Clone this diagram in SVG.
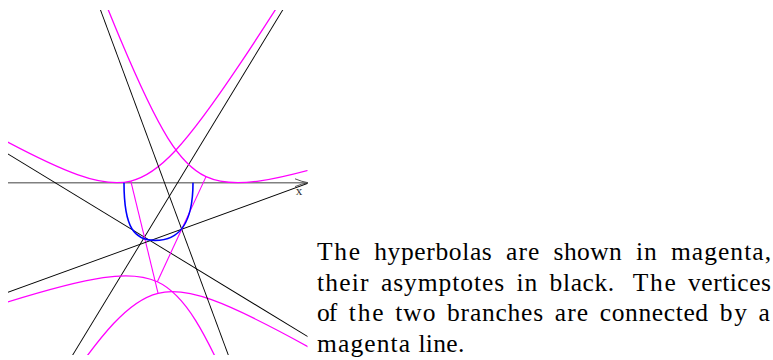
<svg xmlns="http://www.w3.org/2000/svg" width="773" height="360" viewBox="0 0 773 360">
<style>
.asy{stroke:#000;stroke-width:0.9;fill:none}
.hyp{stroke:#ff00ff;stroke-width:1.3;fill:none}
.vtx{stroke:#ff00ff;stroke-width:1.1;fill:none}
.locus{stroke:#0000ff;stroke-width:1.6;fill:none}
.axis{stroke:#808080;stroke-width:1.4;fill:none}
.arrow{stroke:#555;stroke-width:1;fill:none}
</style>
<defs>
<clipPath id="plot"><rect x="8" y="10" width="299.5" height="345"/></clipPath>
<path id="branch" d="M3.8345,434.76 C4.8295,321.95 6.2471,248.90 8.436,197.62 C10.625,146.34 13.744,113.14 18.559,89.826 C23.375,66.519 30.236,51.425 40.83,40.83 C51.424,30.236 66.519,23.375 89.826,18.559 C113.13,13.744 146.34,10.625 197.62,8.436 C248.90,6.2471 321.96,4.8295 434.76,3.8345"/>
</defs>
<g id="x-axis">
<line class="axis" x1="8" y1="182.7" x2="307.5" y2="182.7"/>
<path class="arrow" d="M295,178.8 Q302,181.8 308,182.7 Q302,183.6 295,186.6"/>
<text font-family="Liberation Serif" font-size="13" fill="#333" x="299" y="195" text-anchor="middle">x</text>
</g>
<g id="plot-area" clip-path="url(#plot)">
<g id="hyperbola-a" transform="matrix(-0.85396,-0.52033,0.51994,-0.85419,144.44,237.14)">
<line class="asy" x1="-600" y1="0" x2="600" y2="0"/>
<line class="asy" x1="0" y1="-600" x2="0" y2="600"/>
<use href="#branch" class="hyp"/>
<use href="#branch" class="hyp" transform="scale(-1)"/>
<line class="vtx" x1="-40.83" y1="-40.83" x2="40.83" y2="40.83"/>
</g>
<g id="hyperbola-b" transform="matrix(-0.34957,-0.94368,0.94586,-0.34360,181.70,229.2)">
<line class="asy" x1="-600" y1="0" x2="600" y2="0"/>
<line class="asy" x1="0" y1="-600" x2="0" y2="600"/>
<use href="#branch" class="hyp"/>
<use href="#branch" class="hyp" transform="scale(-1)"/>
<line class="vtx" x1="-40.83" y1="-40.83" x2="40.83" y2="40.83"/>
</g>
<path id="centre-locus" class="locus" d="M124,182.7 C124,229 135,240.4 155,240.4 C177,240.4 193,227 193,182.7"/>
</g>
<g id="caption">
<text font-family="Liberation Serif" font-size="25.5" y="260.3"><tspan x="317" textLength="43.05">The</tspan> <tspan x="374.2" textLength="117.6">hyperbolas</tspan> <tspan x="506" textLength="33.4">are</tspan> <tspan x="553.6" textLength="68.2">shown</tspan> <tspan x="636" textLength="20.85">in</tspan> <tspan x="671" textLength="100">magenta,</tspan></text>
<text font-family="Liberation Serif" font-size="25.5" y="290.8"><tspan x="317" textLength="51.5">their</tspan> <tspan x="380.9" textLength="123.2">asymptotes</tspan> <tspan x="516.4" textLength="20.85">in</tspan> <tspan x="549.6" textLength="64.6">black.</tspan> <tspan x="632.7" textLength="43.05">The</tspan> <tspan x="688.1" textLength="82.8">vertices</tspan></text>
<text font-family="Liberation Serif" font-size="25.5" y="321.2"><tspan x="317" textLength="20.15">of</tspan> <tspan x="348.8" textLength="34.73">the</tspan> <tspan x="395.2" textLength="40.28">two</tspan> <tspan x="447.1" textLength="96.05">branches</tspan> <tspan x="554.8" textLength="33.4">are</tspan> <tspan x="599.8" textLength="108.3">connected</tspan> <tspan x="719.8" textLength="27.1">by</tspan> <tspan x="758.5" textLength="12.5">a</tspan></text>
<text font-family="Liberation Serif" font-size="25.5" y="351.5"><tspan x="317" textLength="93.05">magenta</tspan> <tspan x="418.4" textLength="45.85">line.</tspan></text>
</g>
</svg>
